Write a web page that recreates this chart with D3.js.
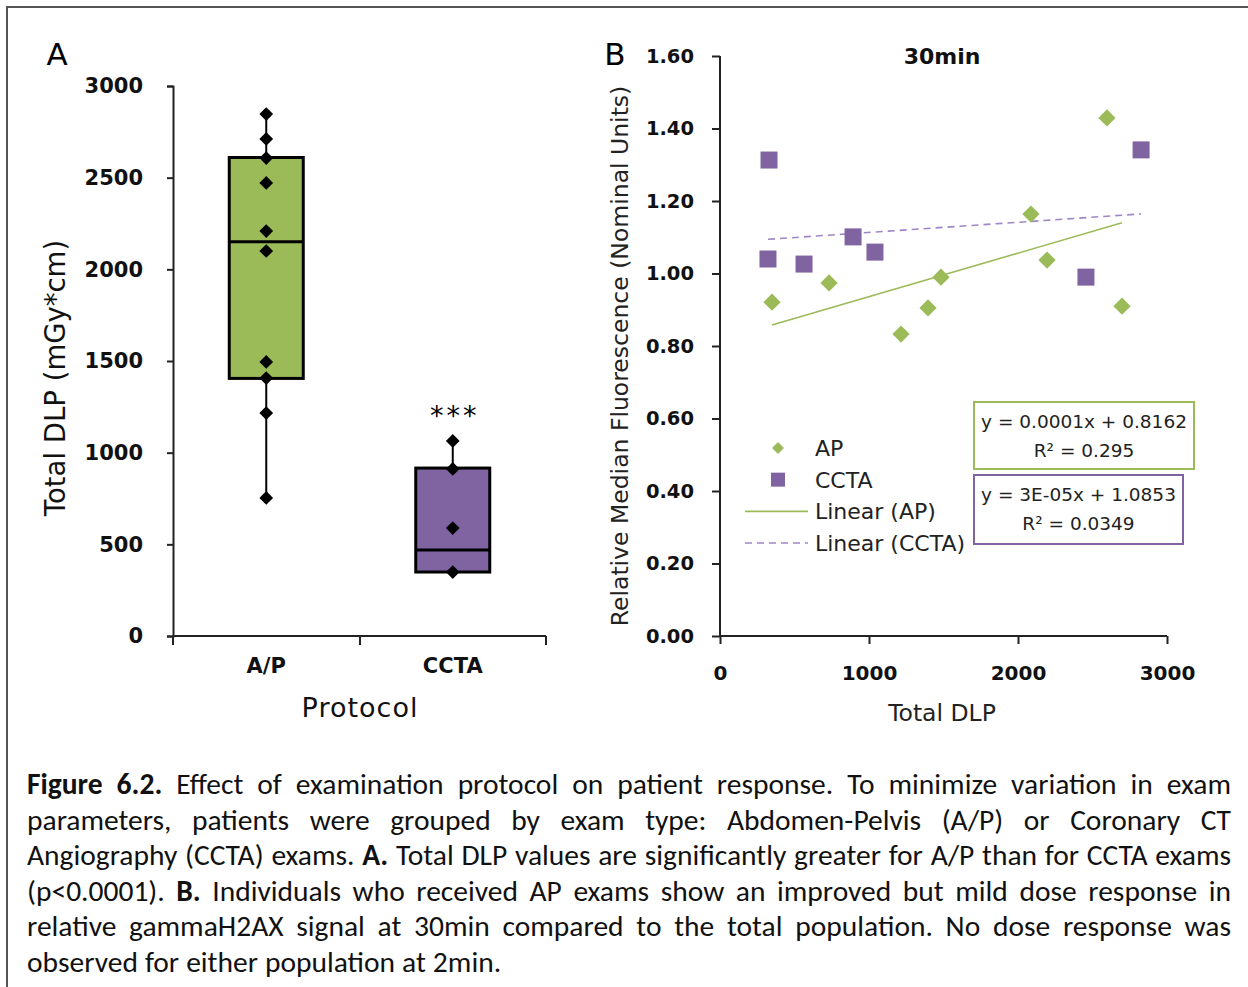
<!doctype html>
<html>
<head>
<meta charset="utf-8">
<script src="https://cdn.jsdelivr.net/npm/d3@7/dist/d3.min.js"></script>
<style>
  body { margin: 0; background: #fff; }
  svg { display: block; }
  .tick text { font-family: "DejaVu Sans", Verdana, sans-serif; font-weight: bold; fill: #111; }
</style>
</head>
<body>
<svg id="chart" width="1248" height="987"></svg>
<script>
// ---- Panel A: Total DLP per protocol ----
var protocols = ["A/P", "CCTA"];
var boxQ1 = [1405, 349];
var boxMedian = [2150, 469];
var boxQ3 = [2610, 916];
var whiskerMin = [753, 349];
var whiskerMax = [2847, 1064];
var apDLP = [2847, 2711, 2607, 2471, 2209, 2100, 1495, 1407, 1216, 753];
var cctaDLP = [1064, 911, 589, 349];
var boxColors = ["#9bbb59", "#8064a2"];
var yTicksA = [0, 500, 1000, 1500, 2000, 2500, 3000];

// ---- Panel B: 30min fluorescence vs DLP ----
var apX = [349, 732, 1215, 1396, 1483, 2087, 2195, 2597, 2698];
var apY = [0.921, 0.974, 0.833, 0.905, 0.990, 1.164, 1.037, 1.429, 0.910];
var cctaX = [329, 322, 564, 893, 1040, 2456, 2826];
var cctaY = [1.313, 1.040, 1.026, 1.101, 1.059, 0.990, 1.341];
var apFit = {slope: 0.00012, intercept: 0.8162};
var cctaFit = {slope: 0.000028, intercept: 1.0853};
var apEq = ["y = 0.0001x + 0.8162", "R\u00b2 = 0.295"];
var cctaEq = ["y = 3E-05x + 1.0853", "R\u00b2 = 0.0349"];
var xTicksB = [0, 1000, 2000, 3000];
var yTicksB = [0, 0.2, 0.4, 0.6, 0.8, 1.0, 1.2, 1.4, 1.6];

var captionLines = [
  [["Figure 6.2.", true], [" Effect of examination protocol on patient response. To minimize variation in exam", false]],
  [["parameters, patients were grouped by exam type: Abdomen-Pelvis (A/P) or Coronary CT", false]],
  [["Angiography (CCTA) exams. ", false], ["A.", true], [" Total DLP values are significantly greater for A/P than for CCTA exams", false]],
  [["(p<0.0001). ", false], ["B.", true], [" Individuals who received AP exams show an improved but mild dose response in", false]],
  [["relative gammaH2AX signal at 30min compared to the total population. No dose response was", false]],
  [["observed for either population at 2min.", false]]
];

var svg = d3.select("#chart");
var verdana = "'DejaVu Sans', Verdana, sans-serif";

// frame
svg.append("path")
  .attr("d", "M7,1000 V7 H1260")
  .attr("fill", "none").attr("stroke", "#555").attr("stroke-width", 2);

// ================= Panel A =================
var xA = d3.scaleBand().domain(protocols).range([173, 546]);
var yA = d3.scaleLinear().domain([0, 3000]).range([636, 86]);

var gA = svg.append("g");
gA.append("g").attr("transform", "translate(173,0)")
  .call(d3.axisLeft(yA).tickValues(yTicksA).tickFormat(d3.format("d")).tickSize(6).tickPadding(24))
  .call(g => g.select(".domain").attr("stroke", "#222").attr("stroke-width", 2))
  .call(g => g.selectAll(".tick line").attr("stroke", "#222").attr("stroke-width", 2))
  .call(g => g.selectAll(".tick text").attr("font-size", 21));

var xAxisA = gA.append("g").attr("transform", "translate(0,636)")
  .call(d3.axisBottom(xA).tickSize(0).tickPadding(22))
  .call(g => g.select(".domain").attr("stroke", "#222").attr("stroke-width", 2).attr("d", "M173,0H546"))
  .call(g => g.selectAll(".tick text").attr("font-size", 21).attr("dy", "0.71em"));
// category separators
xAxisA.selectAll("line.sep").data([173, 360, 546]).enter().append("line")
  .attr("x1", d => d).attr("x2", d => d).attr("y1", 0).attr("y2", 9)
  .attr("stroke", "#222").attr("stroke-width", 2);

var boxW = 74;
protocols.forEach(function(p, i) {
  var cx = xA(p) + xA.bandwidth() / 2;
  gA.append("line")
    .attr("x1", cx).attr("x2", cx)
    .attr("y1", yA(whiskerMax[i])).attr("y2", yA(whiskerMin[i]))
    .attr("stroke", "#000").attr("stroke-width", 2);
  gA.append("rect")
    .attr("x", cx - boxW / 2).attr("width", boxW)
    .attr("y", yA(boxQ3[i])).attr("height", yA(boxQ1[i]) - yA(boxQ3[i]))
    .attr("fill", boxColors[i]).attr("stroke", "#000").attr("stroke-width", 3);
  gA.append("line")
    .attr("x1", cx - boxW / 2).attr("x2", cx + boxW / 2)
    .attr("y1", yA(boxMedian[i])).attr("y2", yA(boxMedian[i]))
    .attr("stroke", "#000").attr("stroke-width", 3);
  var pts = i === 0 ? apDLP : cctaDLP;
  gA.selectAll(null).data(pts).enter().append("path")
    .attr("d", d3.symbol(d3.symbolDiamond2, 120))
    .attr("transform", d => "translate(" + cx + "," + yA(d) + ")")
    .attr("fill", "#000");
});

gA.append("text").attr("x", xA("CCTA") + xA.bandwidth() / 2 + 2).attr("y", 425)
  .attr("text-anchor", "middle").attr("font-family", verdana).attr("font-size", 27)
  .attr("letter-spacing", 3).text("***");

gA.append("text").attr("x", 57).attr("y", 65).attr("text-anchor", "middle")
  .attr("font-family", verdana).attr("font-size", 31).text("A");
gA.append("text").attr("transform", "translate(65,378) rotate(-90)")
  .attr("text-anchor", "middle").attr("font-family", verdana).attr("font-size", 27.5)
  .attr("fill", "#111").text("Total DLP (mGy*cm)");
gA.append("text").attr("x", 360).attr("y", 717).attr("text-anchor", "middle")
  .attr("font-family", verdana).attr("font-size", 27).attr("letter-spacing", 1)
  .attr("fill", "#111").text("Protocol");

// ================= Panel B =================
var xB = d3.scaleLinear().domain([0, 3000]).range([720, 1167]);
var yB = d3.scaleLinear().domain([0, 1.6]).range([636, 56]);

var gB = svg.append("g");
gB.append("g").attr("transform", "translate(720,0)")
  .call(d3.axisLeft(yB).tickValues(yTicksB).tickFormat(d3.format(".2f")).tickSize(8).tickPadding(18))
  .call(g => g.select(".domain").attr("stroke", "#222").attr("stroke-width", 2).attr("d", "M0,56V636"))
  .call(g => g.selectAll(".tick line").attr("stroke", "#222").attr("stroke-width", 2))
  .call(g => g.selectAll(".tick text").attr("font-size", 19.5));
gB.append("g").attr("transform", "translate(0,636)")
  .call(d3.axisBottom(xB).tickValues(xTicksB).tickFormat(d3.format("d")).tickSize(8).tickPadding(22))
  .call(g => g.select(".domain").attr("stroke", "#222").attr("stroke-width", 2).attr("d", "M720,0H1167"))
  .call(g => g.selectAll(".tick line").attr("stroke", "#222").attr("stroke-width", 2))
  .call(g => g.selectAll(".tick text").attr("font-size", 20));

// trend lines
function fitLine(xs, fit) {
  var lo = d3.min(xs), hi = d3.max(xs);
  return [[lo, fit.intercept + fit.slope * lo], [hi, fit.intercept + fit.slope * hi]];
}
var line = d3.line().x(d => xB(d[0])).y(d => yB(d[1]));
gB.append("path").attr("d", line(fitLine(cctaX, cctaFit)))
  .attr("stroke", "#9e88c4").attr("stroke-width", 1.6).attr("stroke-dasharray", "7,5").attr("fill", "none");
gB.append("path").attr("d", line(fitLine(apX, apFit)))
  .attr("stroke", "#9bbb59").attr("stroke-width", 1.6).attr("fill", "none");

// points
gB.selectAll(null).data(d3.zip(cctaX, cctaY)).enter().append("rect")
  .attr("x", d => xB(d[0]) - 8.5).attr("y", d => yB(d[1]) - 8.5)
  .attr("width", 17).attr("height", 17).attr("fill", "#8064a2");
gB.selectAll(null).data(d3.zip(apX, apY)).enter().append("path")
  .attr("d", d3.symbol(d3.symbolDiamond2, 190))
  .attr("transform", d => "translate(" + xB(d[0]) + "," + yB(d[1]) + ")")
  .attr("fill", "#9bbb59");

gB.append("text").attr("x", 615).attr("y", 65).attr("text-anchor", "middle")
  .attr("font-family", verdana).attr("font-size", 31).text("B");
gB.append("text").attr("x", 942).attr("y", 64).attr("text-anchor", "middle")
  .attr("font-family", verdana).attr("font-weight", "bold").attr("font-size", 22)
  .attr("fill", "#111").text("30min");
gB.append("text").attr("transform", "translate(628,356) rotate(-90)")
  .attr("text-anchor", "middle").attr("font-family", verdana).attr("font-size", 23.5)
  .attr("fill", "#222").text("Relative Median Fluorescence (Nominal Units)");
gB.append("text").attr("x", 942).attr("y", 721).attr("text-anchor", "middle")
  .attr("font-family", verdana).attr("font-size", 23.5).attr("fill", "#222").text("Total DLP");

// legend
var legend = gB.append("g").attr("font-family", verdana).attr("font-size", 22).attr("fill", "#222");
var legendLabels = ["AP", "CCTA", "Linear (AP)", "Linear (CCTA)"];
var legendY = d3.scalePoint().domain(legendLabels).range([448, 543]);
legend.append("path").attr("d", d3.symbol(d3.symbolDiamond2, 90))
  .attr("transform", "translate(778," + legendY("AP") + ")").attr("fill", "#9bbb59");
legend.append("rect").attr("x", 771).attr("y", legendY("CCTA") - 7)
  .attr("width", 14).attr("height", 14).attr("fill", "#8064a2");
legend.append("line").attr("x1", 745).attr("x2", 808)
  .attr("y1", legendY("Linear (AP)")).attr("y2", legendY("Linear (AP)"))
  .attr("stroke", "#9bbb59").attr("stroke-width", 1.6);
legend.append("line").attr("x1", 745).attr("x2", 808)
  .attr("y1", legendY("Linear (CCTA)")).attr("y2", legendY("Linear (CCTA)"))
  .attr("stroke", "#9e88c4").attr("stroke-width", 1.6).attr("stroke-dasharray", "7,5");
legend.selectAll("text").data(legendLabels).enter().append("text")
  .attr("x", 815).attr("y", d => legendY(d)).attr("dy", "0.36em").text(d => d);

// equation boxes
function eqBox(x, y, w, h, color, lines) {
  var g = gB.append("g");
  g.append("rect").attr("x", x).attr("y", y).attr("width", w).attr("height", h)
    .attr("fill", "#fff").attr("stroke", color).attr("stroke-width", 2);
  g.selectAll("text").data(lines).enter().append("text")
    .attr("x", x + w / 2).attr("y", (d, i) => y + 26 + i * 29)
    .attr("text-anchor", "middle").attr("font-family", verdana).attr("font-size", 18.5)
    .attr("fill", "#222").text(d => d);
}
eqBox(974, 402, 220, 67, "#9bbb59", apEq);
eqBox(974, 475, 209, 69, "#8064a2", cctaEq);

// ================= Caption =================
var capFont = "Carlito, Calibri, Lato, sans-serif";
var capLeft = 27, capRight = 1231, capTop = 794, capStep = 35.6;
captionLines.forEach(function(segs, li) {
  var words = [];
  segs.forEach(function(s) {
    s[0].split(" ").forEach(function(w) {
      if (w === "") return;
      words.push({t: w, b: s[1]});
    });
  });
  var g = svg.append("g");
  var texts = g.selectAll("text").data(words).enter().append("text")
    .attr("y", capTop + li * capStep)
    .attr("font-family", capFont).attr("font-size", 29.5)
    .attr("font-weight", d => d.b ? "bold" : "normal")
    .attr("fill", "#111").text(d => d.t);
  var widths = [];
  texts.each(function() { widths.push(this.getComputedTextLength()); });
  var total = d3.sum(widths);
  var last = li === captionLines.length - 1;
  var gap = last ? 7 : (capRight - capLeft - total) / (words.length - 1);
  var x = capLeft;
  texts.attr("x", function(d, i) { var cur = x; x += widths[i] + gap; return cur; });
});
</script>
</body>
</html>
